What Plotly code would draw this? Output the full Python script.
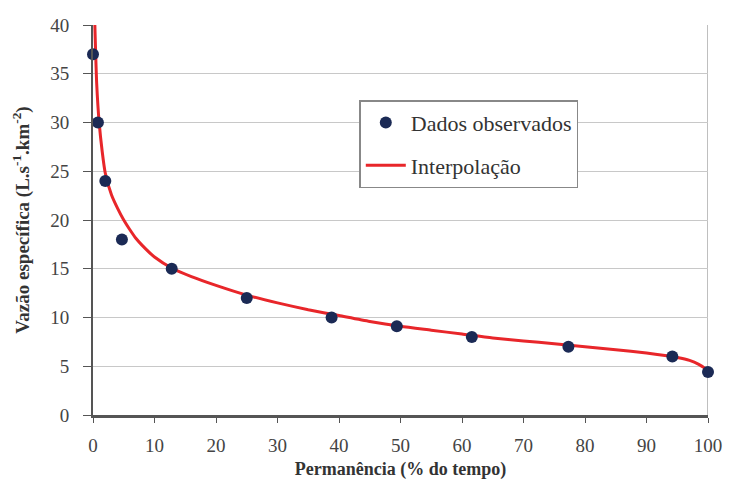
import plotly.graph_objects as go

obs_x = [0, 0.8, 2, 4.7, 12.8, 25, 38.8, 49.4, 61.6, 77.3, 94.2, 100]
obs_y = [37, 30, 24, 18, 15, 12, 10, 9.1, 8, 7, 6, 4.4]

curve_x = [0.3, 0.6, 1, 1.5, 2, 3, 4, 5, 6, 7, 8, 10, 13, 16, 20, 25, 30, 35, 40, 45, 50, 55, 60, 65, 70, 75, 80, 85, 90, 93, 95, 97, 98.5, 100]
curve_y = [40, 34, 30, 27, 24.8, 22.6, 21.2, 20.0, 19.0, 18.1, 17.4, 16.2, 15.0, 14.2, 13.3, 12.3, 11.5, 10.8, 10.2, 9.6, 9.1, 8.7, 8.3, 7.9, 7.6, 7.3, 7.0, 6.7, 6.35, 6.1, 5.9, 5.6, 5.2, 4.6]

x_ticks = [0, 10, 20, 30, 40, 50, 60, 70, 80, 90, 100]
y_ticks = [0, 5, 10, 15, 20, 25, 30, 35, 40]

serif = "Liberation Serif"

fig = go.Figure()
fig.add_trace(go.Scatter(x=curve_x, y=curve_y, mode="lines", name="Interpolação", legendgroup="b",
                         legendrank=2,
                         line=dict(color="#e8262a", width=3, shape="spline", smoothing=0.6)))
fig.add_trace(go.Scatter(x=obs_x, y=obs_y, mode="markers", name="Dados observados", legendgroup="a",
                         legendrank=1,
                         marker=dict(color="#1b2a55", size=12), cliponaxis=False))

fig.update_layout(
    width=734, height=495,
    margin=dict(l=93, r=18, t=25, b=80),
    paper_bgcolor="white", plot_bgcolor="white",
    font=dict(family=serif, size=15, color="#333333"),
    showlegend=True,
    legend=dict(x=0.433, y=0.807, xanchor="left", yanchor="top",
                bordercolor="#888888", borderwidth=1.5, bgcolor="white",
                font=dict(family=serif, size=22, color="#333333"),
                traceorder="grouped", tracegroupgap=11,
                itemwidth=40),
    xaxis=dict(range=[0, 100], tickvals=x_ticks, ticktext=[str(v) for v in x_ticks],
               showgrid=False, zeroline=False, showline=True, linecolor="#555555", linewidth=2.5,
               mirror=False, ticks="outside", ticklen=5, tickcolor="#555555",
               ticklabelstandoff=6,
               tickfont=dict(family=serif, size=19, color="#444444"),
               title=dict(text="<b>Permanência (% do tempo)</b>", font=dict(family=serif, size=18, color="#333333"), standoff=8)),
    yaxis=dict(range=[0, 40], tickvals=y_ticks, ticktext=[str(v) for v in y_ticks],
               showgrid=True, gridcolor="#c8c8c8", gridwidth=1.2, zeroline=False,
               showline=True, linecolor="#555555", linewidth=2,
               ticks="outside", ticklen=8, tickcolor="#555555",
               ticklabelstandoff=10,
               tickfont=dict(family=serif, size=19, color="#444444"),
               title=dict(text="<b>Vazão específica (L.s<sup>-1</sup>.km<sup>-2</sup>)</b>", font=dict(family=serif, size=19, color="#333333"), standoff=16)),
)
fig.add_shape(type="line", xref="x", yref="y", x0=100, x1=100, y0=0, y1=40,
              line=dict(color="#aaaaaa", width=1.5), layer="below")

fig.write_html("out.html")
